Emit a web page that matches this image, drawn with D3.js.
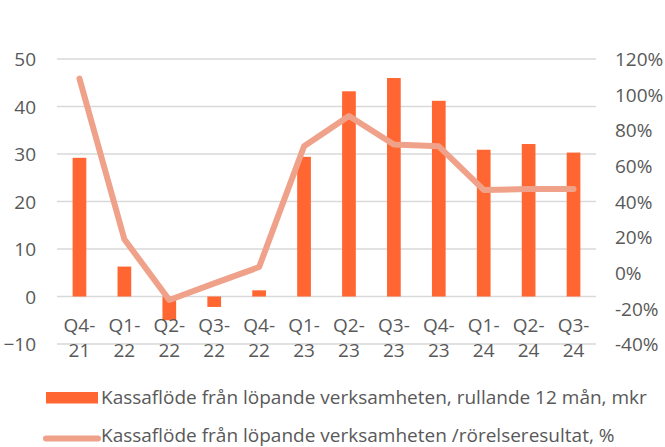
<!DOCTYPE html>
<html><head><meta charset="utf-8">
<script src="https://cdn.jsdelivr.net/npm/d3@7"></script>
<style>
body{margin:0;background:#fff;}
text{font-family:"Open Sans","Noto Sans",sans-serif;fill:#595959;}
</style></head>
<body><svg id="c" width="665" height="447"></svg>
<script>
const categories = ["Q4-21","Q1-22","Q2-22","Q3-22","Q4-22","Q1-23","Q2-23","Q3-23","Q4-23","Q1-24","Q2-24","Q3-24"];
const cashflow = [29.2, 6.3, -5.0, -2.2, 1.3, 29.4, 43.2, 46.0, 41.2, 30.9, 32.1, 30.3];
const ratio = [109, 18.8, -15.3, -6, 3.2, 71, 88, 72, 71, 46.5, 47, 47];
const leftTicks = [-10, 0, 10, 20, 30, 40, 50];
const rightTicks = [-40, -20, 0, 20, 40, 60, 80, 100, 120];
const seriesNames = ["Kassaflöde från löpande verksamheten, rullande 12 mån, mkr",
                     "Kassaflöde från löpande verksamheten /rörelseresultat, %"];

const svg = d3.select("#c");
const pL = 57, pR = 596, pT = 59, pB = 344;
const barColor = "#FF6631", lineColor = "#EFA189";
const fs = "19px";

const x = d3.scaleBand().domain(categories).range([pL, pR]);
const yL = d3.scaleLinear().domain([-10, 50]).range([pB, pT]);
const yR = d3.scaleLinear().domain([-40, 120]).range([pB, pT]);

// gridlines
svg.append("g").selectAll("line").data(leftTicks).join("line")
  .attr("x1", pL).attr("x2", pR)
  .attr("y1", d => yL(d)).attr("y2", d => yL(d))
  .attr("stroke", "#D9D9D9").attr("stroke-width", 1.3);

// left axis
const gl = svg.append("g").attr("transform", `translate(${pL - 21},0)`)
  .call(d3.axisLeft(yL).tickValues(leftTicks).tickSize(0).tickPadding(0));
gl.select(".domain").remove();
gl.selectAll("text").style("font-size", fs).attr("fill", "#595959").attr("dy", "0.35em");

// right axis
const gr = svg.append("g").attr("transform", `translate(${pR + 19},0)`)
  .call(d3.axisRight(yR).tickValues(rightTicks).tickFormat(d => d + "%").tickSize(0).tickPadding(0));
gr.select(".domain").remove();
gr.selectAll("text").style("font-size", fs).attr("fill", "#595959").attr("dy", "0.35em");

// bars
const bw = x.bandwidth() * 0.305;
svg.append("g").selectAll("rect").data(cashflow).join("rect")
  .attr("x", (d, i) => x(categories[i]) + x.bandwidth() / 2 - bw / 2)
  .attr("width", bw)
  .attr("y", d => yL(Math.max(0, d)))
  .attr("height", d => Math.abs(yL(d) - yL(0)))
  .attr("fill", barColor);

// category labels (two lines)
const cl = svg.append("g").selectAll("text").data(categories).join("text")
  .attr("text-anchor", "middle").style("font-size", fs);
cl.append("tspan").attr("x", d => x(d) + x.bandwidth() / 2).attr("y", 332).text(d => d.split("-")[0] + "-");
cl.append("tspan").attr("x", d => x(d) + x.bandwidth() / 2).attr("y", 357).text(d => d.split("-")[1]);

// line
const line = d3.line().x((d, i) => x(categories[i]) + x.bandwidth() / 2).y(d => yR(d));
svg.append("path").datum(ratio).attr("d", line)
  .attr("fill", "none").attr("stroke", lineColor).attr("stroke-width", 6)
  .attr("stroke-linecap", "round").attr("stroke-linejoin", "round");

// legend
const lg = svg.append("g");
lg.append("rect").attr("x", 46).attr("y", 392).attr("width", 52).attr("height", 11.5).attr("fill", barColor);
lg.append("text").attr("x", 101).attr("y", 404).style("font-size", fs).text(seriesNames[0]);
lg.append("line").attr("x1", 46).attr("x2", 98).attr("y1", 438.5).attr("y2", 438.5)
  .attr("stroke", lineColor).attr("stroke-width", 6).attr("stroke-linecap", "round");
lg.append("text").attr("x", 101).attr("y", 442).style("font-size", fs).text(seriesNames[1]);
</script></body></html>
